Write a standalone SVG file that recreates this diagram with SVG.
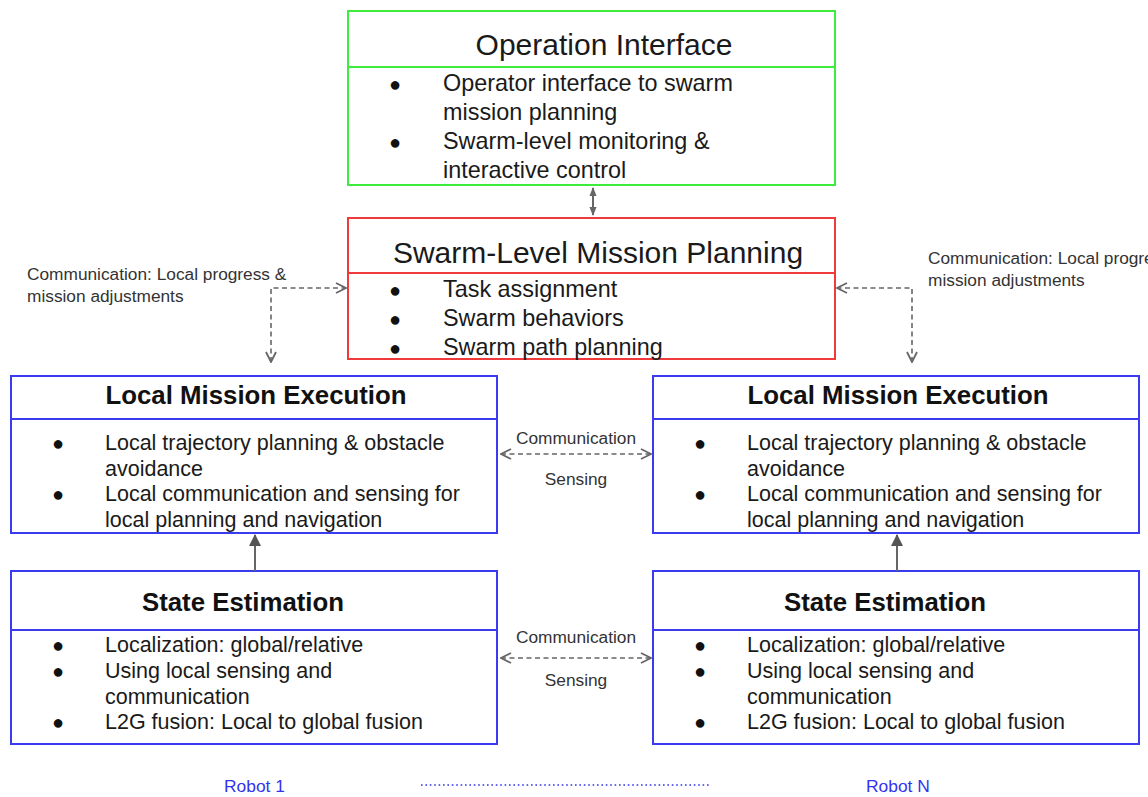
<svg xmlns="http://www.w3.org/2000/svg" width="1148" height="797" viewBox="0 0 1148 797">
<style>
.box{fill:#fff;stroke-width:2}
.g{stroke:#3ded3d}
.r{stroke:#ee3a3a}
.b{stroke:#3a3aee}
.title{font-family:"Liberation Sans",Arial,sans-serif;font-size:30px;fill:#1a1a1a;text-anchor:middle}
.btitle{font-family:"Liberation Sans",Arial,sans-serif;font-size:25.8px;font-weight:bold;fill:#111;text-anchor:middle}
.t21{font-family:"Liberation Sans",Arial,sans-serif;font-size:23.4px;fill:#1a1a1a}
.t20{font-family:"Liberation Sans",Arial,sans-serif;font-size:21.5px;fill:#1a1a1a}
.bul{font-family:"Liberation Sans",Arial,sans-serif;font-size:20px;fill:#111}
.lbl{font-family:"Liberation Sans",Arial,sans-serif;font-size:17.3px;fill:#333}
.lblc{font-family:"Liberation Sans",Arial,sans-serif;font-size:17.3px;fill:#333;text-anchor:middle}
.robot{font-family:"Liberation Sans",Arial,sans-serif;font-size:17.4px;fill:#3333ee}
.dash{fill:none;stroke:#666;stroke-width:1.6;stroke-dasharray:5 3.5}
.solid{fill:none;stroke:#666;stroke-width:2}
</style>
<defs>
<marker id="chev" viewBox="0 0 12 12" refX="11" refY="6" markerWidth="12" markerHeight="12" markerUnits="userSpaceOnUse" orient="auto-start-reverse">
<path d="M1,1 L11,6 L1,11" fill="none" stroke="#666" stroke-width="1.8"/>
</marker>
<marker id="tri" viewBox="0 0 12 14" refX="11" refY="7" markerWidth="12" markerHeight="14" markerUnits="userSpaceOnUse" orient="auto-start-reverse">
<path d="M0,1 L12,7 L0,13 Z" fill="#555"/>
</marker>
<marker id="tris" viewBox="0 0 10 10" refX="9" refY="5" markerWidth="9" markerHeight="9" markerUnits="userSpaceOnUse" orient="auto-start-reverse">
<path d="M0,1 L10,5 L0,9 Z" fill="#666"/>
</marker>
</defs>

<g id="operation-interface">
<rect class="box g" x="348" y="11" width="487" height="174"/>
<line class="g" x1="348" y1="67" x2="835" y2="67" stroke-width="2"/>
<text class="title" x="604" y="55">Operation Interface</text>
<text class="bul" x="389" y="91">●</text>
<text class="t21" x="443" y="91">Operator interface to swarm</text>
<text class="t21" x="443" y="120">mission planning</text>
<text class="bul" x="389" y="149">●</text>
<text class="t21" x="443" y="149">Swarm-level monitoring &amp;</text>
<text class="t21" x="443" y="178">interactive control</text>
</g>

<g id="swarm-planning">
<rect class="box r" x="348" y="218" width="487" height="141"/>
<line class="r" x1="348" y1="273" x2="835" y2="273" stroke-width="2"/>
<text class="title" x="598" y="263">Swarm-Level Mission Planning</text>
<text class="bul" x="389" y="297">●</text>
<text class="t21" x="443" y="297">Task assignment</text>
<text class="bul" x="389" y="326">●</text>
<text class="t21" x="443" y="326">Swarm behaviors</text>
<text class="bul" x="389" y="355">●</text>
<text class="t21" x="443" y="355">Swarm path planning</text>
</g>

<g id="local-exec-1">
<rect class="box b" x="11" y="376" width="486" height="157"/>
<line class="b" x1="11" y1="419" x2="497" y2="419" stroke-width="2"/>
<text class="btitle" x="256" y="404">Local Mission Execution</text>
<text class="bul" x="52" y="450">●</text>
<text class="t20" x="105" y="450">Local trajectory planning &amp; obstacle</text>
<text class="t20" x="105" y="476">avoidance</text>
<text class="bul" x="52" y="501">●</text>
<text class="t20" x="105" y="501">Local communication and sensing for</text>
<text class="t20" x="105" y="527">local planning and navigation</text>
</g>

<g id="local-exec-n">
<rect class="box b" x="653" y="376" width="486" height="157"/>
<line class="b" x1="653" y1="419" x2="1139" y2="419" stroke-width="2"/>
<text class="btitle" x="898" y="404">Local Mission Execution</text>
<text class="bul" x="694" y="450">●</text>
<text class="t20" x="747" y="450">Local trajectory planning &amp; obstacle</text>
<text class="t20" x="747" y="476">avoidance</text>
<text class="bul" x="694" y="501">●</text>
<text class="t20" x="747" y="501">Local communication and sensing for</text>
<text class="t20" x="747" y="527">local planning and navigation</text>
</g>

<g id="state-est-1">
<rect class="box b" x="11" y="571" width="486" height="173"/>
<line class="b" x1="11" y1="630" x2="497" y2="630" stroke-width="2"/>
<text class="btitle" x="243" y="611">State Estimation</text>
<text class="bul" x="52" y="652">●</text>
<text class="t20" x="105" y="652">Localization: global/relative</text>
<text class="bul" x="52" y="678">●</text>
<text class="t20" x="105" y="678">Using local sensing and</text>
<text class="t20" x="105" y="704">communication</text>
<text class="bul" x="52" y="729">●</text>
<text class="t20" x="105" y="729">L2G fusion: Local to global fusion</text>
</g>

<g id="state-est-n">
<rect class="box b" x="653" y="571" width="486" height="173"/>
<line class="b" x1="653" y1="630" x2="1139" y2="630" stroke-width="2"/>
<text class="btitle" x="885" y="611">State Estimation</text>
<text class="bul" x="694" y="652">●</text>
<text class="t20" x="747" y="652">Localization: global/relative</text>
<text class="bul" x="694" y="678">●</text>
<text class="t20" x="747" y="678">Using local sensing and</text>
<text class="t20" x="747" y="704">communication</text>
<text class="bul" x="694" y="729">●</text>
<text class="t20" x="747" y="729">L2G fusion: Local to global fusion</text>
</g>

<g id="connectors">
<line class="solid" x1="593" y1="188" x2="593" y2="215" stroke-width="1.6" marker-start="url(#tris)" marker-end="url(#tris)"/>
<polyline class="dash" points="271,362 271,288 346,288" marker-start="url(#chev)" marker-end="url(#chev)"/>
<polyline class="dash" points="912,362 912,288 837,288" marker-start="url(#chev)" marker-end="url(#chev)"/>
<line class="dash" x1="501" y1="454" x2="651" y2="454" marker-start="url(#chev)" marker-end="url(#chev)"/>
<line class="dash" x1="501" y1="658" x2="651" y2="658" marker-start="url(#chev)" marker-end="url(#chev)"/>
<line class="solid" x1="255" y1="571" x2="255" y2="535" marker-end="url(#tri)"/>
<line class="solid" x1="897" y1="571" x2="897" y2="535" marker-end="url(#tri)"/>
</g>

<g id="labels">
<text class="lbl" x="27" y="280">Communication: Local progress &amp;</text>
<text class="lbl" x="27" y="302">mission adjustments</text>
<text class="lbl" x="928" y="264">Communication: Local progress &amp;</text>
<text class="lbl" x="928" y="286">mission adjustments</text>
<text class="lblc" x="576" y="444">Communication</text>
<text class="lblc" x="576" y="485">Sensing</text>
<text class="lblc" x="576" y="643">Communication</text>
<text class="lblc" x="576" y="686">Sensing</text>
<text class="robot" x="224" y="792">Robot 1</text>
<text class="robot" x="866" y="792">Robot N</text>
<line x1="421" y1="785" x2="710" y2="785" stroke="#3333ee" stroke-width="1.6" stroke-dasharray="1.6 2.8"/>
</g>
</svg>
